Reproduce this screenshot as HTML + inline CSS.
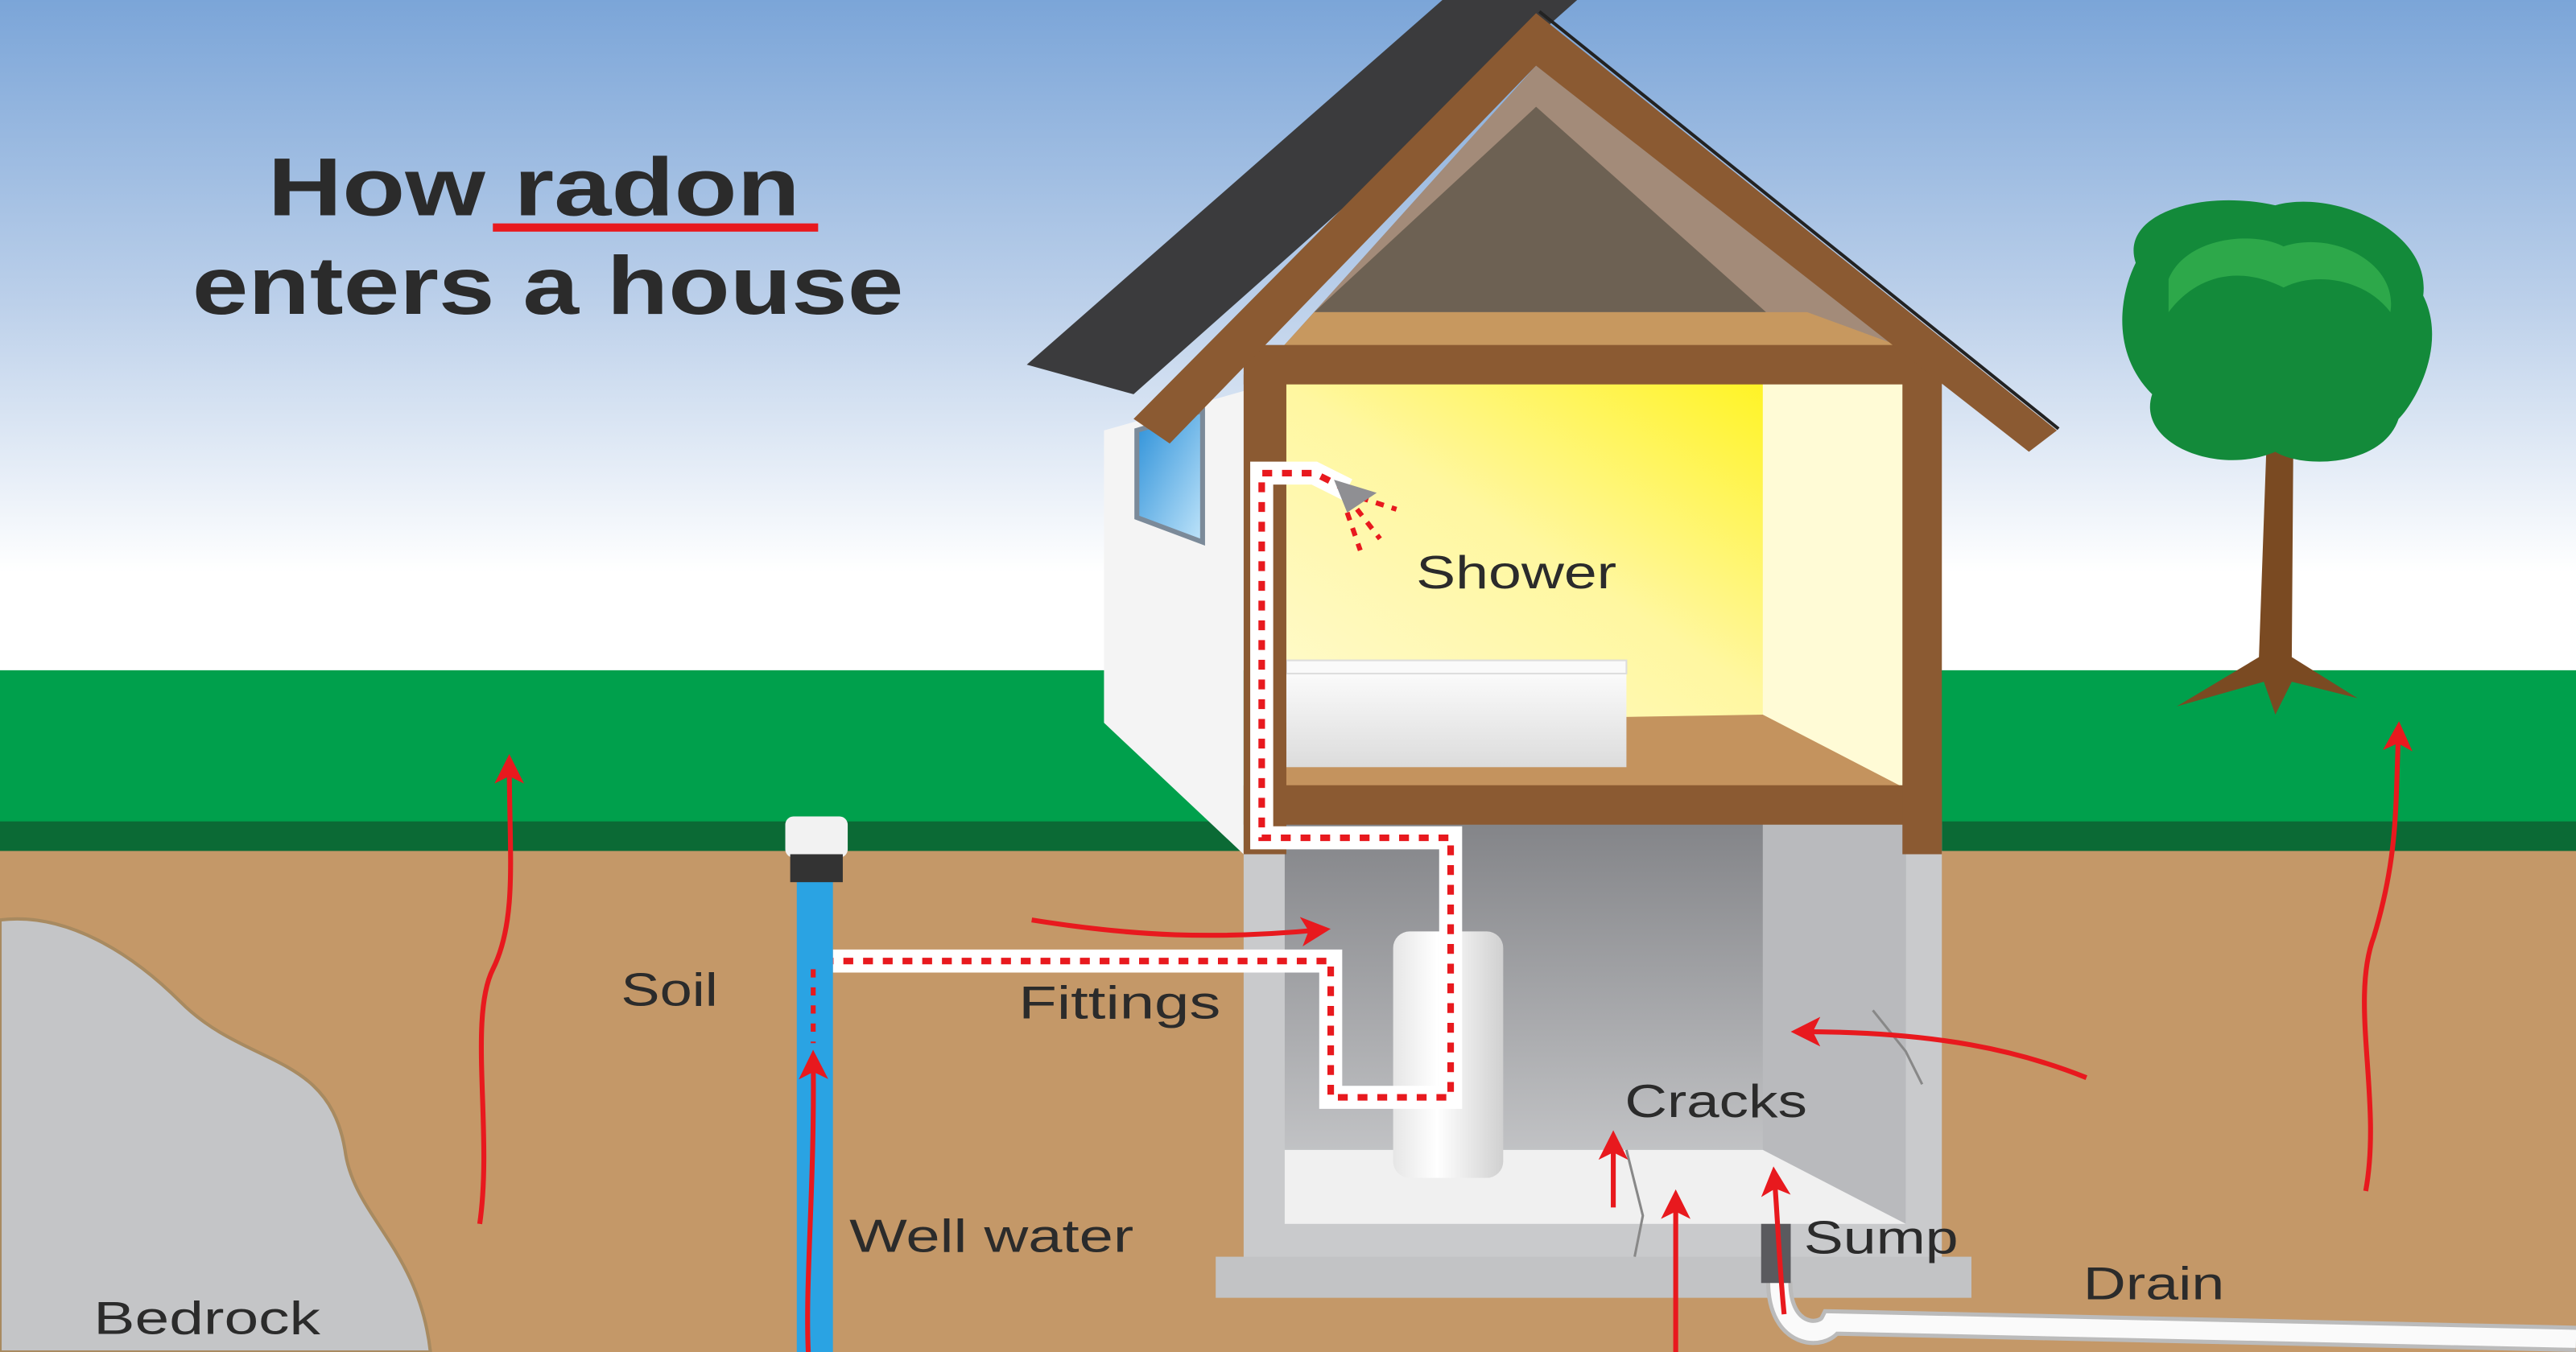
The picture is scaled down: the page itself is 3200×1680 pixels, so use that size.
<!DOCTYPE html>
<html><head><meta charset="utf-8"><style>html,body{margin:0;padding:0;width:3200px;height:1680px;overflow:hidden}svg{display:block}text{font-family:"Liberation Sans",sans-serif;fill:#2b2b2b}</style></head>
<body>
<svg width="3200" height="1680" viewBox="0 0 1568 823" preserveAspectRatio="none" xmlns="http://www.w3.org/2000/svg">
<defs>
<linearGradient id="sky" gradientUnits="userSpaceOnUse" x1="0" y1="0" x2="0" y2="410"><stop offset="0" stop-color="#7ba5d8"/><stop offset="0.45" stop-color="#bcd0ea"/><stop offset="0.85" stop-color="#ffffff"/><stop offset="1" stop-color="#ffffff"/></linearGradient>
<linearGradient id="room" x1="1" y1="0" x2="0" y2="1"><stop offset="0" stop-color="#fff200"/><stop offset="0.5" stop-color="#fff7a0"/><stop offset="1" stop-color="#fffbd8"/></linearGradient>
<linearGradient id="base" x1="0" y1="0" x2="0" y2="1"><stop offset="0" stop-color="#838488"/><stop offset="1" stop-color="#cfd0d2"/></linearGradient>
<linearGradient id="tub" x1="0" y1="0" x2="0" y2="1"><stop offset="0" stop-color="#fff"/><stop offset="1" stop-color="#dcdcdc"/></linearGradient>
<linearGradient id="cyl" x1="0" y1="0" x2="1" y2="0"><stop offset="0" stop-color="#e6e6e6"/><stop offset="0.4" stop-color="#ffffff"/><stop offset="1" stop-color="#d0d0d0"/></linearGradient>
<linearGradient id="win" x1="0" y1="0" x2="1" y2="1"><stop offset="0" stop-color="#2a8fd8"/><stop offset="1" stop-color="#bfe4fa"/></linearGradient>
<marker id="ah" markerWidth="6" markerHeight="6" refX="4" refY="3" orient="auto" markerUnits="strokeWidth"><path d="M0,0 L6,3 L0,6 L1.5,3 z" fill="#e8191e"/></marker>
</defs>
<rect width="1568" height="823" fill="url(#sky)"/>
<rect y="408" width="1568" height="95" fill="#00a04c"/>
<rect y="500" width="1568" height="20" fill="#0b6a35"/>
<rect y="518" width="1568" height="305" fill="#c49868"/>
<path d="M0,560 C40,555 80,580 110,610 C150,650 200,640 210,700 C215,740 255,760 262,823 L0,823Z" fill="#c4c5c7" stroke="#a88a60" stroke-width="2"/>
<text x="163" y="131" font-size="50" font-weight="bold" textLength="324" lengthAdjust="spacingAndGlyphs" fill="#2a2a2a">How radon</text>
<text x="117" y="191" font-size="50" font-weight="bold" textLength="433" lengthAdjust="spacingAndGlyphs" fill="#2a2a2a">enters a house</text>
<rect x="300" y="136" width="198" height="5" fill="#e8191e"/>
<polygon points="672,262 757,238 757,520 672,440" fill="#f4f4f4"/>
<polygon points="692,262 732,250 732,330 692,315" fill="url(#win)" stroke="#7b8a99" stroke-width="3"/>
<rect x="757" y="500" width="425" height="268" fill="#c9cacc"/>
<rect x="740" y="765" width="460" height="25" fill="#c2c3c5"/>
<rect x="782" y="500" width="378" height="245" fill="url(#base)"/>
<polygon points="1073,500 1160,500 1160,745 1073,700" fill="#b9babd"/>
<polygon points="782,700 1073,700 1160,745 782,745" fill="#f0f0f0"/>
<rect x="848" y="567" width="67" height="150" rx="10" fill="url(#cyl)"/>
<path d="M990,700 L1000,740 L995,765" stroke="#888" fill="none" stroke-width="1.5"/>
<path d="M1140,615 L1160,640 L1170,660" stroke="#888" fill="none" stroke-width="1.5"/>
<rect x="780" y="232" width="380" height="250" fill="url(#room)"/>
<rect x="1073" y="232" width="87" height="250" fill="#fffbd6"/>
<polygon points="782,480 782,440 1073,435 1160,480" fill="#c4935e"/>
<rect x="783" y="402" width="207" height="65" fill="url(#tub)"/>
<rect x="783" y="402" width="207" height="8" fill="#fafafa" stroke="#ddd" stroke-width="1"/>
<rect x="757" y="478" width="425" height="24" fill="#8b5a32"/>
<rect x="757" y="228" width="26" height="292" fill="#8b5a32"/>
<rect x="1158" y="228" width="24" height="292" fill="#8b5a32"/>
<polygon points="780,212 935,40 1160,212" fill="#a38b79"/>
<polygon points="800,190 935,65 1075,190" fill="#6d6153"/>
<polygon points="780,212 800,190 1100,190 1160,212" fill="#c7985f"/>
<rect x="757" y="210" width="425" height="24" fill="#8b5a32"/>
<polygon points="625,222 878,0 960,0 690,240" fill="#3b3b3d"/>
<polygon points="690,255 935,8 1252,262 1235,275 935,40 712,270" fill="#8b5a32"/>
<line x1="937" y1="7" x2="1253" y2="261" stroke="#222" stroke-width="2"/>
<g fill="none" stroke-linejoin="miter">
<path d="M820,298 L800,288 L768,288 L768,510 L883,510 L883,668 L810,668 L810,585 L507,585" stroke="#fff" stroke-width="14"/>
<path d="M820,298 L800,288 L768,288 L768,510 L883,510 L883,668 L810,668 L810,585 L507,585" stroke="#e8191e" stroke-width="4" stroke-dasharray="6 6"/>
<path d="M828,303 L850,310 M826,310 L840,328 M820,312 L828,335" stroke="#e8191e" stroke-width="3" stroke-dasharray="5 5"/>
</g>
<polygon points="812,292 838,300 820,312" fill="#8f8f93"/>
<rect x="485" y="535" width="22" height="288" fill="#2aa3e3"/>
<rect x="478" y="497" width="38" height="25" rx="5" fill="#f2f2f2"/>
<rect x="481" y="520" width="32" height="17" fill="#333"/>
<path d="M495,590 L495,635" stroke="#e8191e" stroke-width="3" stroke-dasharray="5 6"/>
<path d="M1083,780 C1083,815 1110,815 1115,805 L1568,815" stroke="#bbb" stroke-width="16" fill="none"/>
<path d="M1083,780 C1083,815 1110,815 1115,805 L1568,815" stroke="#fafafa" stroke-width="11" fill="none"/>
<rect x="1072" y="745" width="18" height="36" fill="#5a5a5e"/>
<path d="M1380,260 L1396,260 L1395,400 L1435,425 L1395,415 L1385,435 L1378,415 L1325,430 L1375,400 Z" fill="#7a4a22"/>
<path d="M1300,160 C1290,130 1340,115 1385,125 C1420,115 1480,140 1475,180 C1490,210 1470,245 1460,255 C1450,285 1400,285 1385,275 C1350,290 1300,270 1310,240 C1285,215 1290,180 1300,160Z" fill="#138a3a"/>
<path d="M1320,170 C1330,145 1370,140 1390,150 C1420,140 1460,160 1455,190 C1440,170 1410,165 1390,175 C1360,160 1335,170 1320,190Z" fill="#2da84a"/>
<g fill="none" stroke="#e8191e" stroke-width="3" marker-end="url(#ah)">
<path d="M292,745 C300,690 285,620 300,590 C315,560 310,520 310,465"/>
<path d="M1440,725 C1450,670 1430,610 1445,570 C1460,520 1458,490 1460,445"/>
<path d="M628,560 C690,570 740,572 804,566"/>
<path d="M1270,656 C1230,640 1180,628 1096,628"/>
<path d="M982,735 L982,694"/>
<path d="M1020,823 L1020,730"/>
<path d="M1086,800 C1083,770 1082,740 1080,716"/>
<path d="M492,823 C490,780 496,720 495,645"/>
</g>
<g font-size="28">
<text x="378" y="612" textLength="59" lengthAdjust="spacingAndGlyphs">Soil</text>
<text x="620" y="620" textLength="123" lengthAdjust="spacingAndGlyphs">Fittings</text>
<text x="517" y="762" textLength="173" lengthAdjust="spacingAndGlyphs">Well water</text>
<text x="57" y="812" textLength="138" lengthAdjust="spacingAndGlyphs">Bedrock</text>
<text x="862" y="358" textLength="122" lengthAdjust="spacingAndGlyphs">Shower</text>
<text x="989" y="680" textLength="111" lengthAdjust="spacingAndGlyphs">Cracks</text>
<text x="1098" y="763" textLength="94" lengthAdjust="spacingAndGlyphs">Sump</text>
<text x="1268" y="791" textLength="86" lengthAdjust="spacingAndGlyphs">Drain</text>
</g>
</svg>
</body></html>
